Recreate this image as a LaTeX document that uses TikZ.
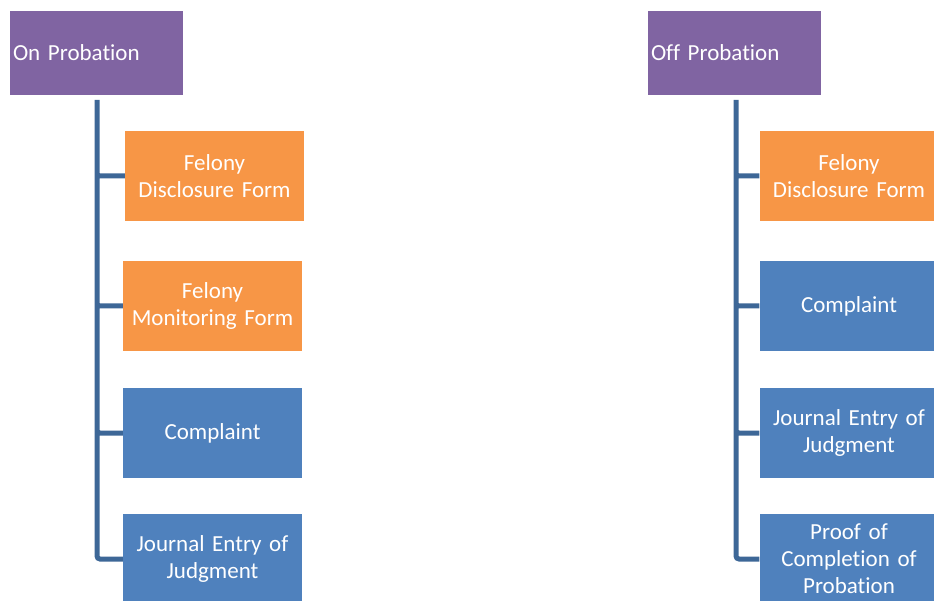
\documentclass[tikz,border=0pt]{standalone}
\usepackage{fontspec}
\setmainfont{Carlito}[Ligatures=NoCommon]
\usepackage{xcolor}
\usepackage{tikz}
\usetikzlibrary{positioning}

\definecolor{headpurple}{HTML}{8064A2}
\definecolor{formorange}{HTML}{F79646}
\definecolor{docblue}{HTML}{4F81BD}
\definecolor{linkblue}{HTML}{3D6797}

\begin{document}
\begin{tikzpicture}[x=1pt, y=-1pt,
        head/.style={fill=headpurple, text=white, minimum width=173pt, minimum height=84pt,
            inner sep=3pt, text width=167pt, align=left, font=\fontsize{23}{27}\selectfont},
        doc/.style={text=white, minimum width=179pt, minimum height=90pt, inner sep=0pt,
            text width=177pt, align=center, font=\fontsize{23}{27}\selectfont},
        form/.style={doc, fill=formorange},
        paper/.style={doc, fill=docblue},
        spine/.style={draw=linkblue, line width=5pt, rounded corners=3pt}]
        \useasboundingbox (0,0) rectangle (934,601);

        % on probation
        \node[head] (on) at (96.5,53) {On Probation};
        \coordinate (ontop) at (97,100);
        \node[form]  (ondisc) at (214.5,176) {Felony\\Disclosure Form};
        \node[form]  (onmon)  at (212.5,306) {Felony\\Monitoring Form};
        \node[paper] (oncomp) at (212.5,433) {Complaint};
        \node[paper] (onjour) at (212.5,559) {Journal Entry of\\Judgment};

        % off probation
        \node[head] (off) at (734.5,53) {Off Probation};
        \coordinate (offtop) at (736,100);
        \node[form]  (offdisc) at (849,176) {Felony\\Disclosure Form};
        \node[paper] (offcomp) at (849,306) {Complaint};
        \node[paper] (offjour) at (849,433) {Journal Entry of\\Judgment};
        \node[paper] (offproof) at (849,559) {Proof of\\Completion of\\Probation};

        \path[spine]
        (ontop) |- (ondisc.west)
        (ontop) |- (onmon.west)
        (ontop) |- (oncomp.west)
        (ontop) |- (onjour.west)
        (offtop) |- (offdisc.west)
        (offtop) |- (offcomp.west)
        (offtop) |- (offjour.west)
        (offtop) |- (offproof.west);
    \end{tikzpicture}
\end{document}
